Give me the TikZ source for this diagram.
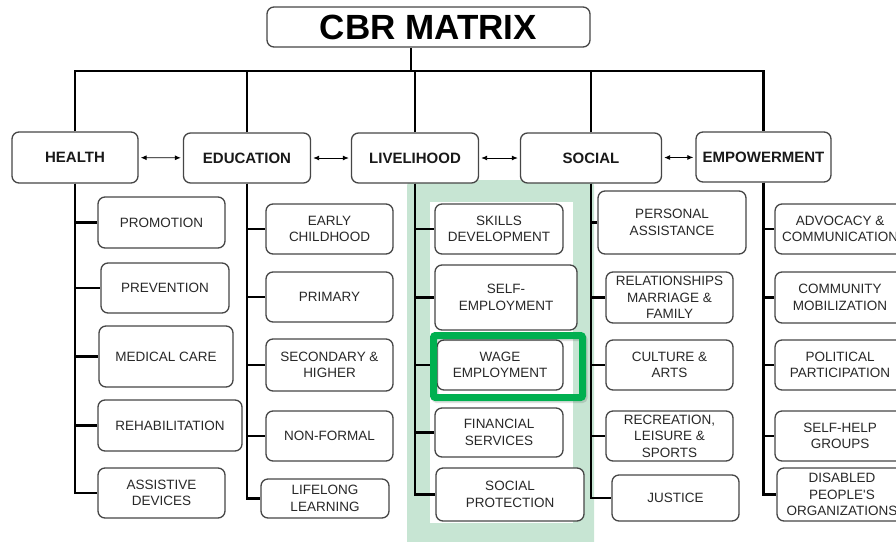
\documentclass[tikz,border=0pt]{standalone}
\usepackage{fontspec}
\setmainfont{Liberation Sans}
\usetikzlibrary{arrows.meta}

\pgfdeclarelayer{panel}
\pgfdeclarelayer{wires}
\pgfsetlayers{panel,wires,main}

\definecolor{boxline}{RGB}{70,70,70}
\definecolor{labeltext}{RGB}{40,40,40}
\definecolor{topictext}{RGB}{25,25,25}
\definecolor{panelgreen}{RGB}{199,229,211}
\definecolor{markgreen}{RGB}{0,176,80}

\tikzset{
  box/.style={draw=boxline, line width=1.3pt, rounded corners=7pt, fill=white,
              inner sep=0pt, align=center},
  sz/.style 2 args={minimum width=#1pt, minimum height=#2pt},
  titlebox/.style={box, font=\fontsize{35}{40}\selectfont\bfseries, text=black},
  topic/.style={box, font=\fontsize{15}{18}\selectfont\bfseries, text=topictext},
  item/.style={box, font=\fontsize{13.5}{16.5}\selectfont, text=labeltext},
  wire/.style={line width=2.8pt, black},
  link/.style={{Latex[length=6pt,width=5pt]}-{Latex[length=6pt,width=5pt]},
               line width=0.9pt, black, shorten <=2pt, shorten >=2pt},
}

\begin{document}
\begin{tikzpicture}[x=1pt, y=-1pt]
  \useasboundingbox (0,0) rectangle (896,541);
  \clip (0,0) rectangle (896,541);

  % heading and the five components
  \node[titlebox, sz={323}{40}] (title) at (428.5,27) {CBR MATRIX};
  \node[topic, sz={126}{51}] (health)      at (75,157.5)   {HEALTH};
  \node[topic, sz={127}{50}] (education)   at (247,158)    {EDUCATION};
  \node[topic, sz={127}{50}] (livelihood)  at (415,158)    {LIVELIHOOD};
  \node[topic, sz={141}{50}] (social)      at (591,158)    {SOCIAL};
  \node[topic, sz={135}{50}] (empowerment) at (763.5,157)  {EMPOWERMENT};

  % health
  \node[item, sz={127}{51}] (h1) at (161.5,222.5) {PROMOTION};
  \node[item, sz={128}{50}] (h2) at (165,288)     {PREVENTION};
  \node[item, sz={134}{61}] (h3) at (166,356.5)   {MEDICAL CARE};
  \node[item, sz={144}{51}] (h4) at (170,425.5)   {REHABILITATION};
  \node[item, sz={127}{50}] (h5) at (161.5,493)   {ASSISTIVE\\DEVICES};

  % education
  \node[item, sz={127}{50}] (e1) at (329.5,229)   {EARLY\\CHILDHOOD};
  \node[item, sz={127}{50}] (e2) at (329.5,297)   {PRIMARY};
  \node[item, sz={127}{52}] (e3) at (329.5,365)   {SECONDARY \&\\HIGHER};
  \node[item, sz={127}{50}] (e4) at (329.5,436)   {NON-FORMAL};
  \node[item, sz={128}{39}] (e5) at (325,498.5)   {LIFELONG\\LEARNING};

  % livelihood
  \node[item, sz={128}{50}] (l1) at (499,229)     {SKILLS\\DEVELOPMENT};
  \node[item, sz={142}{65}] (l2) at (506,297.5)   {SELF-\\EMPLOYMENT};
  \node[item, sz={126}{50}] (l3) at (500,365)     {WAGE\\EMPLOYMENT};
  \node[item, sz={128}{49}] (l4) at (499,432.5)   {FINANCIAL\\SERVICES};
  \node[item, sz={148}{53}] (l5) at (510,494.5)   {SOCIAL\\PROTECTION};

  % social
  \node[item, sz={148}{63}] (s1) at (672,222.5)   {PERSONAL\\ASSISTANCE};
  \node[item, sz={127}{51}] (s2) at (669.5,297.5) {RELATIONSHIPS\\MARRIAGE \&\\FAMILY};
  \node[item, sz={127}{50}] (s3) at (669.5,365)   {CULTURE \&\\ARTS};
  \node[item, sz={127}{50}] (s4) at (669.5,436)   {RECREATION,\\LEISURE \&\\SPORTS};
  \node[item, sz={127}{46}] (s5) at (675.5,498)   {JUSTICE};

  % empowerment
  \node[item, sz={130}{50}] (p1) at (840,229)     {ADVOCACY \&\\COMMUNICATION};
  \node[item, sz={130}{51}] (p2) at (840,297.5)   {COMMUNITY\\MOBILIZATION};
  \node[item, sz={130}{50}] (p3) at (840,365)     {POLITICAL\\PARTICIPATION};
  \node[item, sz={130}{50}] (p4) at (840,436)     {SELF-HELP\\GROUPS};
  \node[item, sz={130}{53}] (p5) at (842,494.5)   {DISABLED\\PEOPLE\textquotesingle S\\ORGANIZATIONS};

  % highlighted livelihood column
  \begin{pgfonlayer}{panel}
    \fill[panelgreen, rounded corners=6pt] (407,180) rectangle (594,548);
    \fill[white] (430,202) rectangle (573,523);
  \end{pgfonlayer}

  % tree wiring
  \begin{pgfonlayer}{wires}
    \coordinate (bus) at (411,71);
    \draw[wire] (bus) -- (bus |- title.south);
    \draw[wire] (health.north) -- (health.north |- bus)
                -- (empowerment.north |- bus) -- (empowerment.north);
    \foreach \t in {education, livelihood, social}
      \draw[wire] (\t.north) -- (\t.north |- bus);
    \foreach \t/\c in {health/h, education/e, livelihood/l, social/s, empowerment/p}
      \foreach \k in {1,...,5}
        \draw[wire] (\t.south) |- (\c\k.west);
  \end{pgfonlayer}

  % links between neighbouring components
  \draw[link] (health) -- (education);
  \draw[link] (education) -- (livelihood);
  \draw[link] (livelihood) -- (social);
  \draw[link] (social) -- (empowerment);

  % frame marking wage employment
  \draw[black, opacity=0.12, line width=7pt, rounded corners=2pt]
    ([shift={(1.5,2)}]l3.center) ++(-66.5,-29.5) rectangle ++(149,62);
  \draw[markgreen, line width=7pt, rounded corners=2pt]
    (l3.center) ++(-66.5,-29.5) rectangle ++(149,62);
\end{tikzpicture}
\end{document}
